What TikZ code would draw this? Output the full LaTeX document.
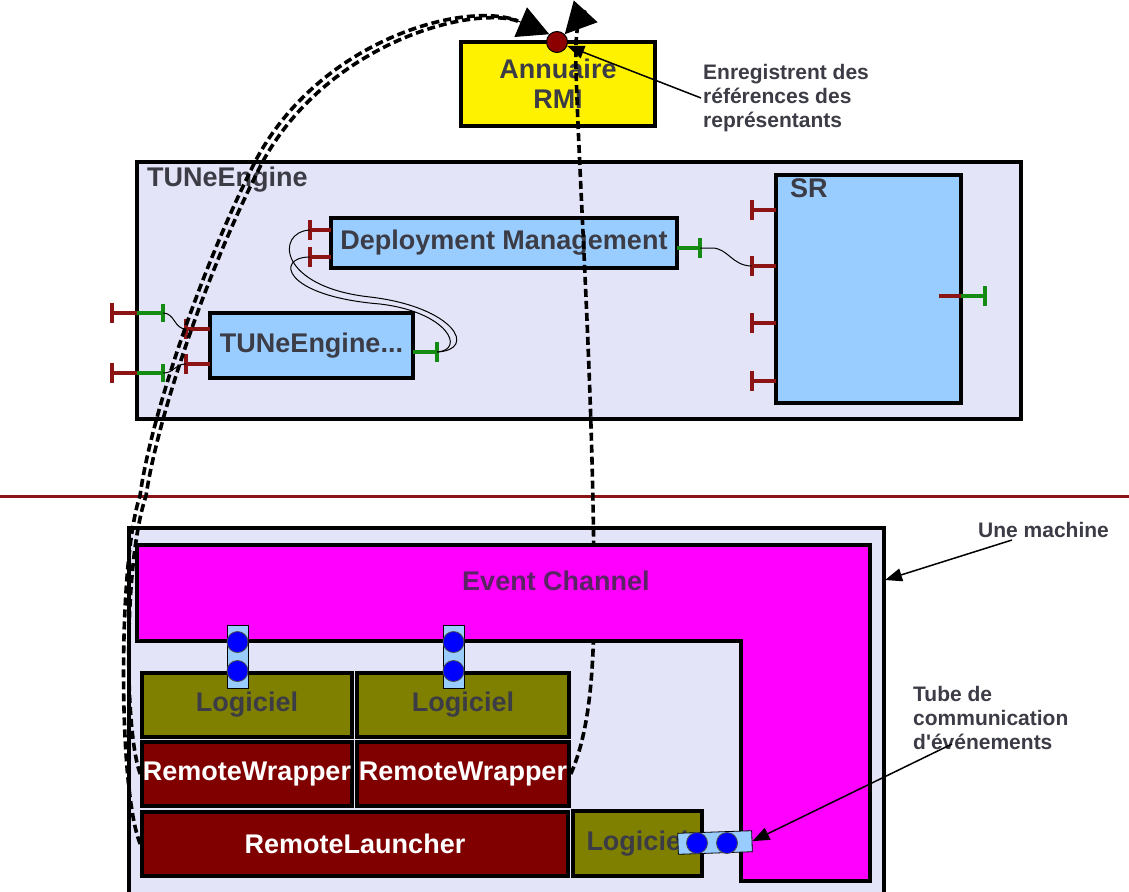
\documentclass[tikz,border=0pt]{standalone}
\usepackage{fontspec}
\setmainfont{Liberation Sans}
\newfontfamily\notefont{Liberation Sans}
\usetikzlibrary{arrows.meta}
\definecolor{lav}{RGB}{228,228,248}
\definecolor{lblue}{RGB}{153,204,255}
\definecolor{pred}{RGB}{140,20,20}
\definecolor{pgreen}{RGB}{20,140,20}
\definecolor{txt}{RGB}{60,60,70}
\definecolor{ectxt}{RGB}{90,36,100}
\definecolor{mred}{RGB}{128,0,0}
\definecolor{olivec}{RGB}{128,128,0}
\definecolor{dotred}{RGB}{140,0,0}
\definecolor{tubeblue}{RGB}{0,0,255}
\definecolor{ecmag}{RGB}{255,0,255}
\begin{document}
\begin{tikzpicture}[x=1pt,y=-1pt,
  bigf/.style={font=\fontsize{27}{30}\selectfont\bfseries},
  smallf/.style={font=\notefont\fontsize{21}{24}\selectfont\bfseries},
  box/.style={draw=black,line width=3.5pt,inner sep=0pt,bigf,text=txt,align=center},
  lbl/.style={inner sep=0pt,bigf,text=txt},
  note/.style={inner sep=2pt,smallf,text=txt,align=left},
  rport/.style={draw=pred,line width=4pt},
  gport/.style={draw=pgreen,line width=4pt},
  wire/.style={draw=black,line width=1pt},
  dashedlink/.style={draw=black,line width=3.6pt,dash pattern=on 8pt off 4pt},
  bigtip/.style={draw=black,fill=black,solid,line width=1pt,-{Triangle[length=31pt,width=32pt]}},
  thinarrow/.style={draw=black,line width=1.5pt,-{Triangle[length=17pt,width=13pt]}},
  tube/.style={draw=black,line width=0.8pt,fill=lblue,inner sep=0pt},
  ball/.style={circle,draw=black!70,line width=0.8pt,fill=tubeblue,inner sep=0pt,minimum size=21pt}
]
\clip (0,0) rectangle (1129,891);
\fill[white] (0,0) rectangle (1129,891);

% ---------- Annuaire RMI ----------
\node[box,fill=yellow,minimum width=194pt,minimum height=84pt] (rmi) at (558,84) {Annuaire\\RMI};

% ---------- TUNeEngine container ----------
\node[box,fill=lav,minimum width=884pt,minimum height=257pt] (te0) at (579,290.5) {};
\node[lbl,anchor=west] (te0lbl) at (147,180) {TUNeEngine};

\node[box,fill=lblue,minimum width=346pt,minimum height=50pt] (dm) at (504,243) {Deployment Management};
\node[box,fill=lblue,minimum width=203pt,minimum height=65pt] (tei) at (311.5,345.5) {TUNeEngine...};
\node[box,fill=lblue,minimum width=185pt,minimum height=228pt] (sr) at (868.5,289) {};
\node[lbl,anchor=west] (srlbl) at (790,188) {SR};

% ports of Deployment Management
\draw[rport] (331,230) -- (310,230) (310,220) -- (310,240);
\draw[rport] (331,257) -- (310,257) (310,247) -- (310,267);
\coordinate (dmA) at (310,230);
\coordinate (dmB) at (310,257);
\draw[gport] (677,248) -- (700,248) (700,238) -- (700,258);
\coordinate (dmR) at (700,248);

% ports of TUNeEngine...
\draw[rport] (210,329) -- (186,329) (186,319) -- (186,339);
\draw[rport] (210,364) -- (186,364) (186,354) -- (186,374);
\coordinate (teA) at (186,329);
\coordinate (teB) at (186,364);
\draw[gport] (413,352) -- (437,352) (437,342) -- (437,362);
\coordinate (teR) at (437,352);

% outer ports of the container
\draw[rport] (137,313) -- (112,313) (112,303) -- (112,323);
\draw[gport] (137,313) -- (163,313) (163,304) -- (163,322);
\draw[rport] (137,373) -- (112,373) (112,363) -- (112,383);
\draw[gport] (137,373) -- (163,373) (163,364) -- (163,382);
\coordinate (ceA) at (163,313);
\coordinate (ceB) at (163,373);

% ports of SR
\foreach \yy in {210,266,323,381}{
  \draw[rport] (776,\yy) -- (752,\yy) (752,\yy-10) -- (752,\yy+10);
}
\coordinate (srB) at (752,266);
\draw[rport] (939,296) -- (961,296);
\draw[gport] (961,296) -- (985,296) (985,286) -- (985,306);

% wires
\draw[wire] (dmR) -- (712,248) .. controls (728,248) and (732,266) .. (srB);
\draw[wire] (dmA) .. controls (275,232) and (278,287) .. (370,297) .. controls (455,307) and (478,350) .. (teR);
\draw[wire] (dmB) .. controls (275,257) and (282,296) .. (380,304) .. controls (448,312) and (466,350) .. (teR);
\draw[wire] (ceA) .. controls (175,313) and (174,329) .. (teA);
\draw[wire] (ceB) .. controls (175,373) and (174,364) .. (teB);

% ---------- separator ----------
\coordinate (sepL) at (0,496);
\coordinate (sepR) at (1129,496);
\draw[pred,line width=3pt] (sepL) -- (sepR);

% ---------- machine ----------
\node[box,fill=lav,minimum width=755pt,minimum height=432pt] (machine) at (506.5,744) {};

\node[box,fill=olivec,minimum width=210pt,minimum height=64pt] (log1) at (247,705) {Logiciel};
\node[box,fill=olivec,minimum width=212pt,minimum height=64pt] (log2) at (463,705) {Logiciel};
\node[box,fill=mred,text=white,minimum width=210pt,minimum height=64pt] (rw1) at (247,774) {RemoteWrapper};
\node[box,fill=mred,text=white,minimum width=212pt,minimum height=64pt] (rw2) at (463,774) {RemoteWrapper};
\node[box,fill=mred,text=white,minimum width=426pt,minimum height=64pt] (rl) at (355,844) {RemoteLauncher};
\node[box,fill=olivec,minimum width=129pt,minimum height=65pt] (log3) at (637.5,843.5) {Logiciel};

% ---------- registry dot ----------
\node[circle,draw=black,line width=1pt,fill=dotred,minimum size=21pt,inner sep=0pt] (dot) at (557,42) {};
\coordinate (tipL) at (518,21);
\coordinate (tipR) at (586,11);

% ---------- dashed registration links ----------
\draw[dashedlink] (rl.west) .. controls (118,790) and (118,560) .. (140,496)
   .. controls (150,420) and (200,270) .. (256,160)
   .. controls (320,40) and (465,0) .. (tipL);
\draw[dashedlink] (rw1.west) .. controls (124,730) and (124,560) .. (146,496)
   .. controls (157,420) and (206,272) .. (262,163)
   .. controls (325,46) and (467,5) .. (tipL);
\draw[dashedlink] (rw2.east) .. controls (588,735) and (594,680) .. (594,600)
   .. controls (594,400) and (580,200) .. (576,70)
   .. controls (575,30) and (578,16) .. (tipR);
\draw[bigtip] (tipL) -- (dot.135);
\draw[bigtip] (tipR) -- (dot.45);

% ---------- Event Channel ----------
\draw[fill=ecmag,draw=black,line width=3.5pt] (137,545) -- (870,545) -- (870,881) -- (741,881) -- (741,641) -- (137,641) -- cycle;
\node[lbl,text=ectxt] (ec) at (556,581) {Event Channel};

% ---------- tubes ----------
\node[tube,minimum width=21pt,minimum height=63pt] (tb1) at (237.5,656.5) {};
\node[ball] (tb1a) at (237.5,642) {};
\node[ball] (tb1b) at (237.5,671) {};
\node[tube,minimum width=21pt,minimum height=63pt] (tb2) at (453.5,656.5) {};
\node[ball] (tb2a) at (453.5,642) {};
\node[ball] (tb2b) at (453.5,671) {};
\node[tube,minimum width=74pt,minimum height=21pt,rotate=2] (tb3) at (715,842.5) {};
\node[ball] (tb3a) at (697,843) {};
\node[ball] (tb3b) at (727,843) {};

% ---------- annotations ----------
\node[note,anchor=west] (lblA) at (701,98) {Enregistrent des\\références des\\représentants};
\draw[thinarrow] (lblA.west) -- (dot);

\node[note,anchor=west] (lblM) at (976,530) {Une machine};
\coordinate (mStart) at (1012,540);
\coordinate (mEnd) at (885,580);
\draw[thinarrow] (mStart) -- (mEnd);

\node[note,anchor=west] (lblT) at (911,718) {Tube de\\communication\\d'événements};
\coordinate (tStart) at (952,744);
\draw[thinarrow] (tStart) -- (tb3.east);
\end{tikzpicture}
\end{document}
